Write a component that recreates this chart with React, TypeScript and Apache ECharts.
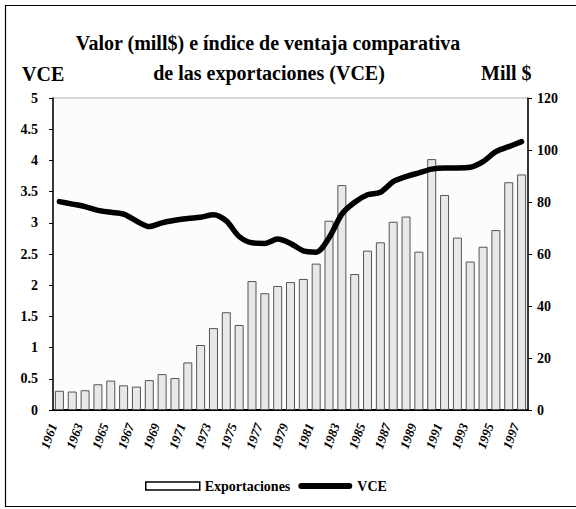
import React, { useEffect, useRef } from "react";
import * as echarts from "echarts";

const years = [
  "1961", "1962", "1963", "1964", "1965", "1966", "1967", "1968", "1969", "1970",
  "1971", "1972", "1973", "1974", "1975", "1976", "1977", "1978", "1979", "1980",
  "1981", "1982", "1983", "1984", "1985", "1986", "1987", "1988", "1989", "1990",
  "1991", "1992", "1993", "1994", "1995", "1996", "1997",
];

const exportaciones = [
  7.4, 7.1, 7.6, 9.9, 11.3, 9.5, 9.0, 11.5, 13.8, 12.3,
  18.3, 25.0, 31.5, 37.6, 32.7, 49.6, 44.9, 47.7, 49.2, 50.4,
  56.3, 72.8, 86.5, 52.3, 61.3, 64.5, 72.4, 74.4, 60.9, 96.5,
  82.7, 66.3, 57.1, 62.8, 69.2, 87.6, 90.6,
];

const vce = [
  3.34, 3.3, 3.26, 3.2, 3.17, 3.14, 3.03, 2.94, 3.0, 3.04,
  3.07, 3.09, 3.13, 3.03, 2.78, 2.68, 2.67, 2.74, 2.67, 2.55,
  2.53, 2.76, 3.14, 3.33, 3.45, 3.49, 3.66, 3.74, 3.8, 3.86,
  3.88, 3.88, 3.89, 3.98, 4.14, 4.22, 4.3,
];

const titleLine1 = "Valor (mill$) e índice de ventaja comparativa";
const titleLine2 = "de las exportaciones (VCE)";
const leftAxisName = "VCE";
const rightAxisName = "Mill $";

const FONT = '"Liberation Serif", "Times New Roman", serif';

export default function App() {
  const ref = useRef<HTMLDivElement>(null);
  useEffect(() => {
    const chart = echarts.init(ref.current!, null, { renderer: "svg" });
    const titleFont = `bold 20px ${FONT}`;
    chart.setOption({
      animation: false,
      backgroundColor: "#fff",
      grid: {
        left: 53,
        right: 48,
        top: 98,
        bottom: 99,
        show: true,
        borderColor: "#b0b0b0",
        borderWidth: 1,
        backgroundColor: "#fcfcfc",
      },
      graphic: [
        {
          type: "rect",
          shape: { x: 5.5, y: 5.5, width: 580, height: 501 },
          style: { fill: "none", stroke: "#000", lineWidth: 1.2 },
          silent: true,
        },
        {
          type: "text",
          x: 268,
          y: 43,
          style: {
            text: titleLine1,
            font: titleFont,
            fill: "#000",
            textAlign: "center",
            textVerticalAlign: "middle",
          },
        },
        {
          type: "text",
          x: 269,
          y: 73,
          style: {
            text: titleLine2,
            font: titleFont,
            fill: "#000",
            textAlign: "center",
            textVerticalAlign: "middle",
          },
        },
        {
          type: "text",
          x: 22,
          y: 74,
          style: {
            text: leftAxisName,
            font: titleFont,
            fill: "#000",
            textAlign: "left",
            textVerticalAlign: "middle",
          },
        },
        {
          type: "text",
          x: 481,
          y: 73,
          style: {
            text: rightAxisName,
            font: titleFont,
            fill: "#000",
            textAlign: "left",
            textVerticalAlign: "middle",
          },
        },
      ],
      legend: {
        left: 140,
        top: 474,
        itemWidth: 54,
        itemHeight: 8,
        itemGap: 8,
        symbolKeepAspect: true,
        textStyle: { fontFamily: FONT, fontWeight: "bold", fontSize: 14, color: "#000" },
        data: [
          {
            name: "Exportaciones",
            icon: "rect",
            itemStyle: { color: "#fff", borderColor: "#000", borderWidth: 1.5 },
          },
          {
            name: "VCE",
            icon: "path://M3,0 L51,0 A3,3 0 0 1 51,6 L3,6 A3,3 0 0 1 3,0 Z",
            itemStyle: { color: "#000", borderWidth: 0 },
          },
        ],
      },
      xAxis: {
        type: "category",
        data: years,
        boundaryGap: true,
        axisLine: { lineStyle: { color: "#000", width: 2 } },
        axisTick: { show: false },
        axisLabel: {
          interval: 1,
          rotate: 70,
          margin: 16,
          verticalAlign: "bottom",
          fontFamily: FONT,
          fontWeight: "bold",
          fontStyle: "italic",
          fontSize: 13,
          color: "#000",
        },
      },
      yAxis: [
        {
          type: "value",
          position: "left",
          min: 0,
          max: 5,
          interval: 0.5,
          splitLine: { show: false },
          axisLine: { show: true, lineStyle: { color: "#000", width: 1.5 } },
          axisTick: { show: true, length: 4, lineStyle: { color: "#000" } },
          axisLabel: {
            margin: 15,
            fontFamily: FONT,
            fontWeight: "bold",
            fontSize: 14,
            color: "#000",
          },
        },
        {
          type: "value",
          position: "right",
          min: 0,
          max: 120,
          interval: 20,
          splitLine: { show: false },
          axisLine: { show: true, lineStyle: { color: "#000", width: 1.5 } },
          axisTick: { show: true, length: 4, lineStyle: { color: "#000" } },
          axisLabel: {
            margin: 9,
            fontFamily: FONT,
            fontWeight: "bold",
            fontSize: 14,
            color: "#000",
          },
        },
      ],
      series: [
        {
          name: "Exportaciones",
          type: "bar",
          yAxisIndex: 1,
          data: exportaciones,
          barWidth: 9,
          itemStyle: { color: "#e8e8e8", borderColor: "#555", borderWidth: 1 },
        },
        {
          name: "VCE",
          type: "line",
          yAxisIndex: 0,
          data: vce,
          smooth: 0.3,
          symbol: "none",
          showSymbol: false,
          lineStyle: { color: "#000", width: 5.5, cap: "round", join: "round" },
          itemStyle: { color: "#000" },
        },
      ],
    });
    return () => chart.dispose();
  }, []);
  return (
    <div
      ref={ref}
      style={{ width: 576, height: 509, position: "absolute", left: 0, top: 0 }}
    />
  );
}
